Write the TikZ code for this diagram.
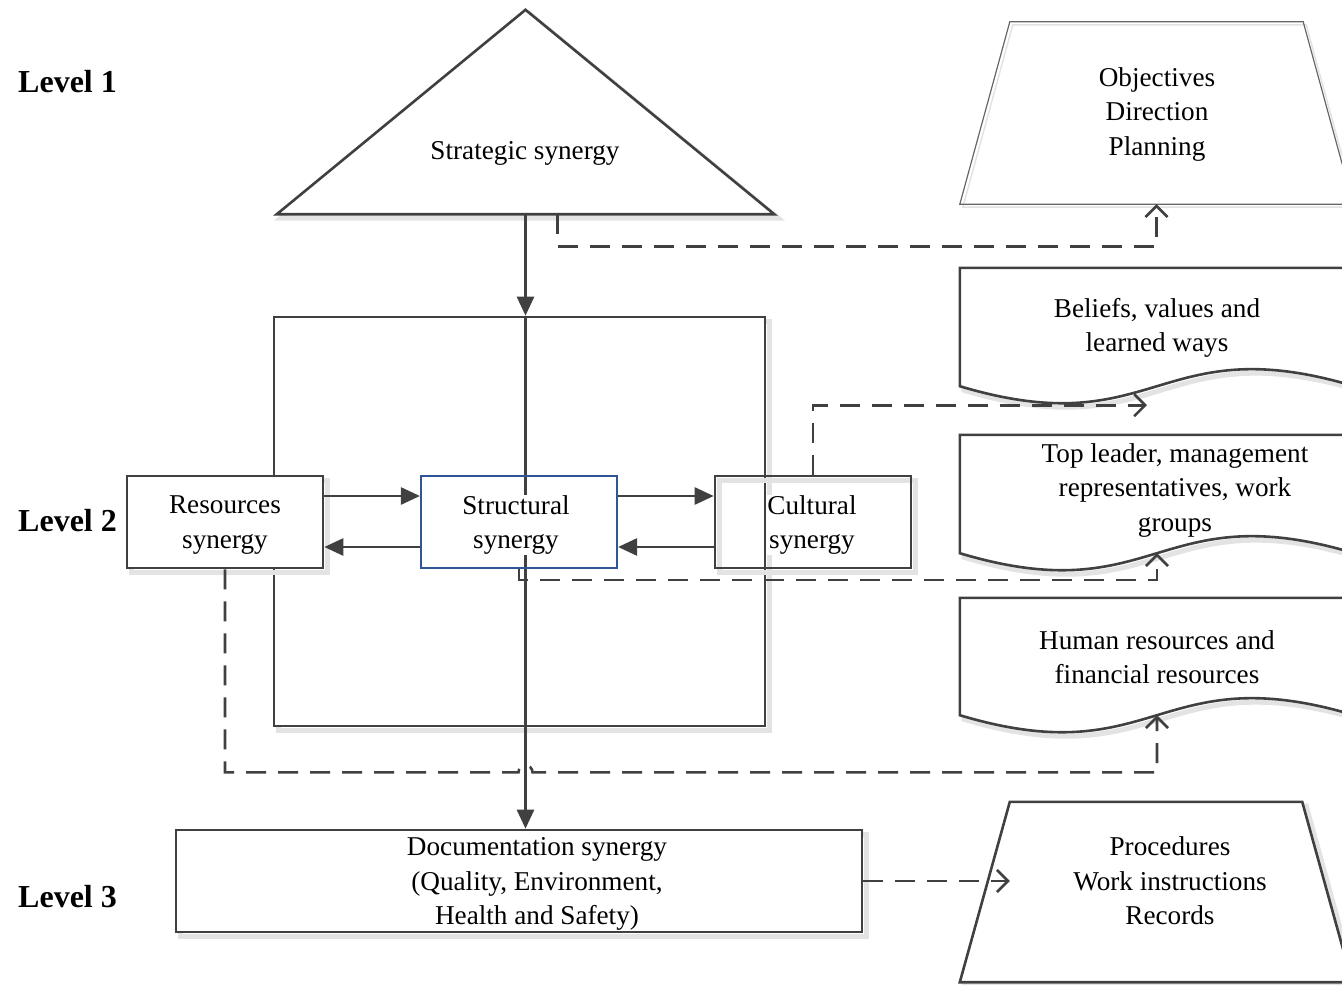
\documentclass[tikz,border=0pt]{standalone}
\usepackage{fontspec}
\setmainfont{Liberation Serif}
\usetikzlibrary{arrows.meta,calc}
\definecolor{ink}{HTML}{404040}
\definecolor{shade}{HTML}{E3E3E3}
\definecolor{frameblue}{HTML}{2F5597}

\begin{document}
\begin{tikzpicture}[x=1pt,y=-1pt,
  font=\fontsize{27.2}{34.5}\selectfont,
  shadowed/.style={preaction={draw=shade, line width=5pt, transform canvas={shift={(4pt,-4pt)}}}},
  outline/.style={draw=ink, line width=2.6pt},
  box/.style={outline, inner sep=0pt, minimum width=196pt, minimum height=92pt, align=center},
  area/.style={inner sep=0pt, align=center},
  textlabel/.style={inner sep=0pt, align=center},
  solidarrow/.style={draw=ink, line width=2.6pt, -{Triangle[length=19pt,width=17pt]}},
  dasharrow/.style={draw=ink, line width=2.6pt, dash pattern=on 20pt off 12pt,
    -{Straight Barb[length=11pt,width=22pt]}},
  levellabel/.style={anchor=west, font=\fontsize{32}{38}\selectfont\bfseries, inner sep=0pt},
  docshape/.style={insert path={(#1.south west) -- (#1.north west) -- (#1.north east) -- (#1.south east)
    .. controls ($(#1.south)+(0,-59)$) and ($(#1.south)+(0,59)$) .. (#1.south west) -- cycle}},
  trapshape/.style={insert path={($(#1.north west)+(50,0)$) -- ($(#1.north east)+(-50,0)$)
    -- (#1.south east) -- (#1.south west) -- cycle}}
]
\useasboundingbox (0,0) rectangle (1342,985);
\clip (0,0) rectangle (1342,985);

% level captions
\node[levellabel] (lv1) at (18,82) {Level 1};
\node[levellabel] (lv2) at (18,521) {Level 2};
\node[levellabel] (lv3) at (18,897) {Level 3};

% level 1: strategic triangle
\node[area, minimum width=497pt, minimum height=204pt] (strat) at (525.5,112) {};
\path[outline, fill=white, shadowed] (strat.south west) -- (strat.north) -- (strat.south east) -- cycle;
\node[textlabel] (strattxt) at (525,153) {Strategic synergy};

% level 2 frame
\node[outline, shadowed, fill=white, minimum width=491pt, minimum height=409pt, inner sep=0pt] (core) at (519.5,521.5) {};

% level 3 box
\node[outline, shadowed, fill=white, minimum width=686pt, minimum height=102pt, inner sep=0pt] (docu) at (519,881) {};
\node[textlabel] (docutxt) at (537,884) {Documentation synergy\\(Quality, Environment,\\Health and Safety)};

% main vertical flow
\draw[solidarrow] (strat.south) -- (strat.south |- core.north);
\draw[solidarrow] (strat.south |- core.north) -- (strat.south |- docu.north);

% level 2 boxes
\node[box, shadowed, fill=white] (res) at (225,522) {};
\node[textlabel] (restxt) at (225,525) {Resources\\synergy};
\node[box, draw=frameblue, line width=2.2pt] (str) at (519,522) {};
\node[textlabel, fill=white] (strtxt) at (516,525) {Structural\\synergy};
\node[box, shadowed] (cul) at (813,522) {};
\node[textlabel, fill=white] (cultxt) at (812,525) {Cultural\\synergy};

\draw[solidarrow] ([yshift=26pt]res.east) -- ([yshift=26pt]str.west);
\draw[solidarrow] ([yshift=-25pt]str.west) -- ([yshift=-25pt]res.east);
\draw[solidarrow] ([yshift=26pt]str.east) -- ([yshift=26pt]cul.west);
\draw[solidarrow] ([yshift=-25pt]cul.west) -- ([yshift=-25pt]str.east);

% right column: outcomes
\node[area, minimum width=393pt, minimum height=182pt] (obj) at (1156.5,113) {};
\path[draw=ink!80, line width=1.2pt,
  preaction={draw=shade, line width=1.5pt, transform canvas={shift={(3pt,-3pt)}}}, trapshape=obj];
\node[textlabel] (objtxt) at (1157,114) {Objectives\\Direction\\Planning};

\node[area, minimum width=394pt, minimum height=118pt] (bel) at (1157,327) {};
\path[outline, shadowed, fill=white, docshape=bel];
\node[textlabel] (beltxt) at (1157,328) {Beliefs, values and\\learned ways};

\node[area, minimum width=394pt, minimum height=118pt] (lead) at (1157,494) {};
\path[outline, shadowed, fill=white, docshape=lead];
\node[textlabel] (leadtxt) at (1175,490) {Top leader, management\\representatives, work\\groups};

\node[area, minimum width=394pt, minimum height=117pt] (hr) at (1157,656.5) {};
\path[outline, shadowed, fill=white, docshape=hr];
\node[textlabel] (hrtxt) at (1157,657) {Human resources and\\financial resources};

\node[area, minimum width=392pt, minimum height=180pt] (proc) at (1156,892) {};
\path[outline, shadowed, fill=white, trapshape=proc];
\node[textlabel] (proctxt) at (1170,881) {Procedures\\Work instructions\\Records};

% dashed links to the outcomes
\coordinate (belin) at ($(bel.south)+(-10,19)$);
\coordinate (procin) at ($(proc.west)+(50,-11)$);

\draw[dasharrow] ([xshift=32pt]strat.south) -- ++(0,32) -| (obj.south);
\draw[dasharrow] (cul.north) |- (belin);
\draw[dasharrow] (str.south) -- ++(0,11) -| (lead.south);
\draw[dasharrow] (res.south) -- ++(0,203) -- ($(strat.south |- res.south)+(-7,203)$)
  arc[start angle=180, end angle=360, radius=7] -| (hr.south);
\draw[dasharrow] (docu.east) -- (procin);
\end{tikzpicture}
\end{document}
